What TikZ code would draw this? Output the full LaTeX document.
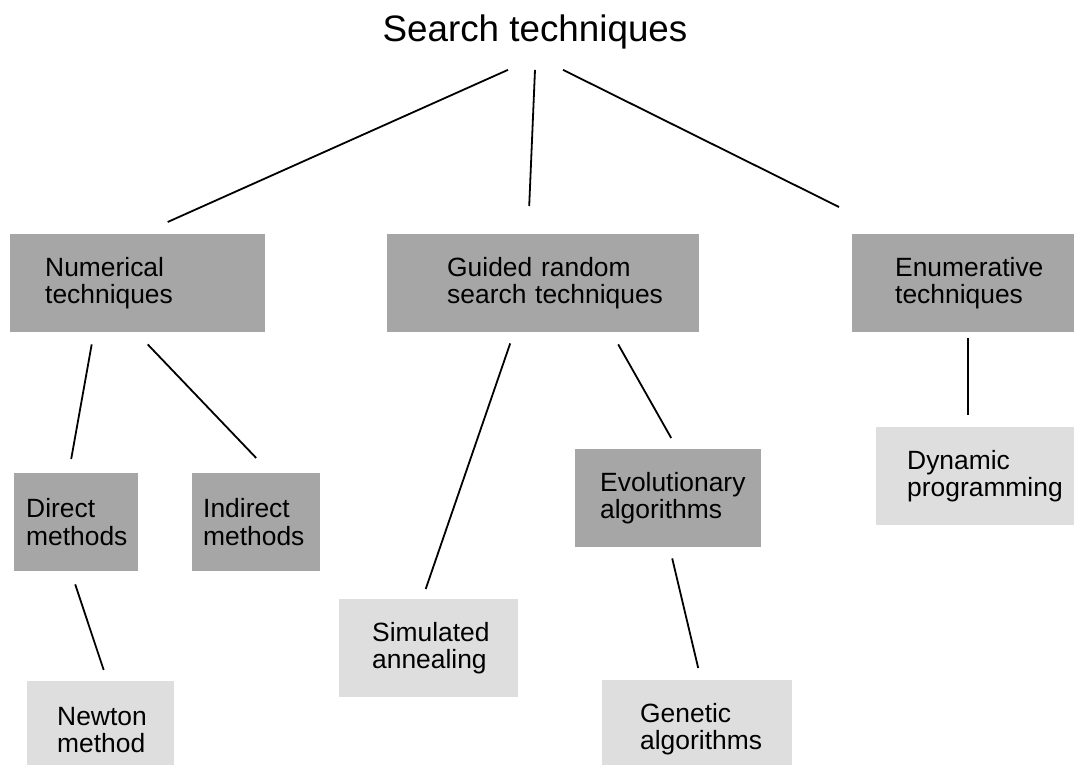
\documentclass[tikz,border=0pt]{standalone}
\usepackage{fontspec}
\setmainfont{Liberation Sans}
\definecolor{boxdark}{gray}{0.65}
\definecolor{boxlight}{gray}{0.87}
\begin{document}
\begin{tikzpicture}[x=1pt,y=-1pt,
    box/.style={anchor=north west,inner xsep=0pt,inner ysep=0pt,minimum height=98pt,
      align=left,font=\fontsize{26.4}{27.5}\selectfont},
    dark/.style={box,fill=boxdark},
    light/.style={box,fill=boxlight},
    pad/.style={execute at begin node={\leftskip=#1pt\relax}},
    link/.style={line width=1.8pt}]
    \useasboundingbox (0,0) rectangle (1074,765);
    \clip (0,0) rectangle (1074,765);
    \node[font=\fontsize{36.8}{40}\selectfont,anchor=base,inner sep=0pt] (search) at (535,42) {Search techniques};
    \node[dark,text width=255pt,pad=35] (num) at (10,234) {Numerical\\techniques};
    \node[dark,text width=312pt,pad=60] (guided) at (387,234) {Guided random\\search techniques};
    \node[dark,text width=222pt,pad=43] (enum) at (852,234) {Enumerative\\techniques};
    \node[dark,text width=124pt,pad=12] (dir) at (14,473) {Direct\\methods};
    \node[dark,text width=128pt,pad=11] (indir) at (192,473) {Indirect\\methods};
    \node[dark,text width=186pt,pad=25] (evol) at (575,449) {Evolutionary\\algorithms};
    \node[light,text width=198pt,pad=31] (dyn) at (876,427) {Dynamic\\programming};
    \node[light,text width=179pt,pad=33] (sim) at (339,599) {Simulated\\annealing};
    \node[light,text width=147pt,pad=30] (newton) at (27,681) {Newton\\method};
    \node[light,text width=190pt,pad=38] (genetic) at (602,680) {Genetic\\algorithms};
    \draw[link] ([xshift=-27pt,yshift=-20pt]search.south) -- ([xshift=30pt,yshift=12pt]num.north);
    \draw[link] ([yshift=-20pt]search.south) -- ([xshift=-14pt,yshift=28pt]guided.north);
    \draw[link] ([xshift=28pt,yshift=-20pt]search.south) -- ([xshift=-13pt,yshift=27pt]enum.north west);
    \draw[link] ([xshift=-46pt,yshift=-12pt]num.south) -- ([xshift=-5pt,yshift=14pt]dir.north);
    \draw[link] ([xshift=10pt,yshift=-12pt]num.south) -- ([yshift=15pt]indir.north);
    \draw[link] ([xshift=-33pt,yshift=-11pt]guided.south) -- ([xshift=-3pt,yshift=10pt]sim.north);
    \draw[link] ([xshift=75pt,yshift=-12pt]guided.south) -- ([xshift=3pt,yshift=11pt]evol.north);
    \draw[link] ([xshift=5pt,yshift=-6pt]enum.south) -- ([xshift=-7pt,yshift=12pt]dyn.north);
    \draw[link] ([xshift=-1pt,yshift=-13pt]dir.south) -- ([xshift=3pt,yshift=11pt]newton.north);
    \draw[link] ([xshift=4pt,yshift=-11pt]evol.south) -- ([xshift=1pt,yshift=12pt]genetic.north);
\end{tikzpicture}
\end{document}
